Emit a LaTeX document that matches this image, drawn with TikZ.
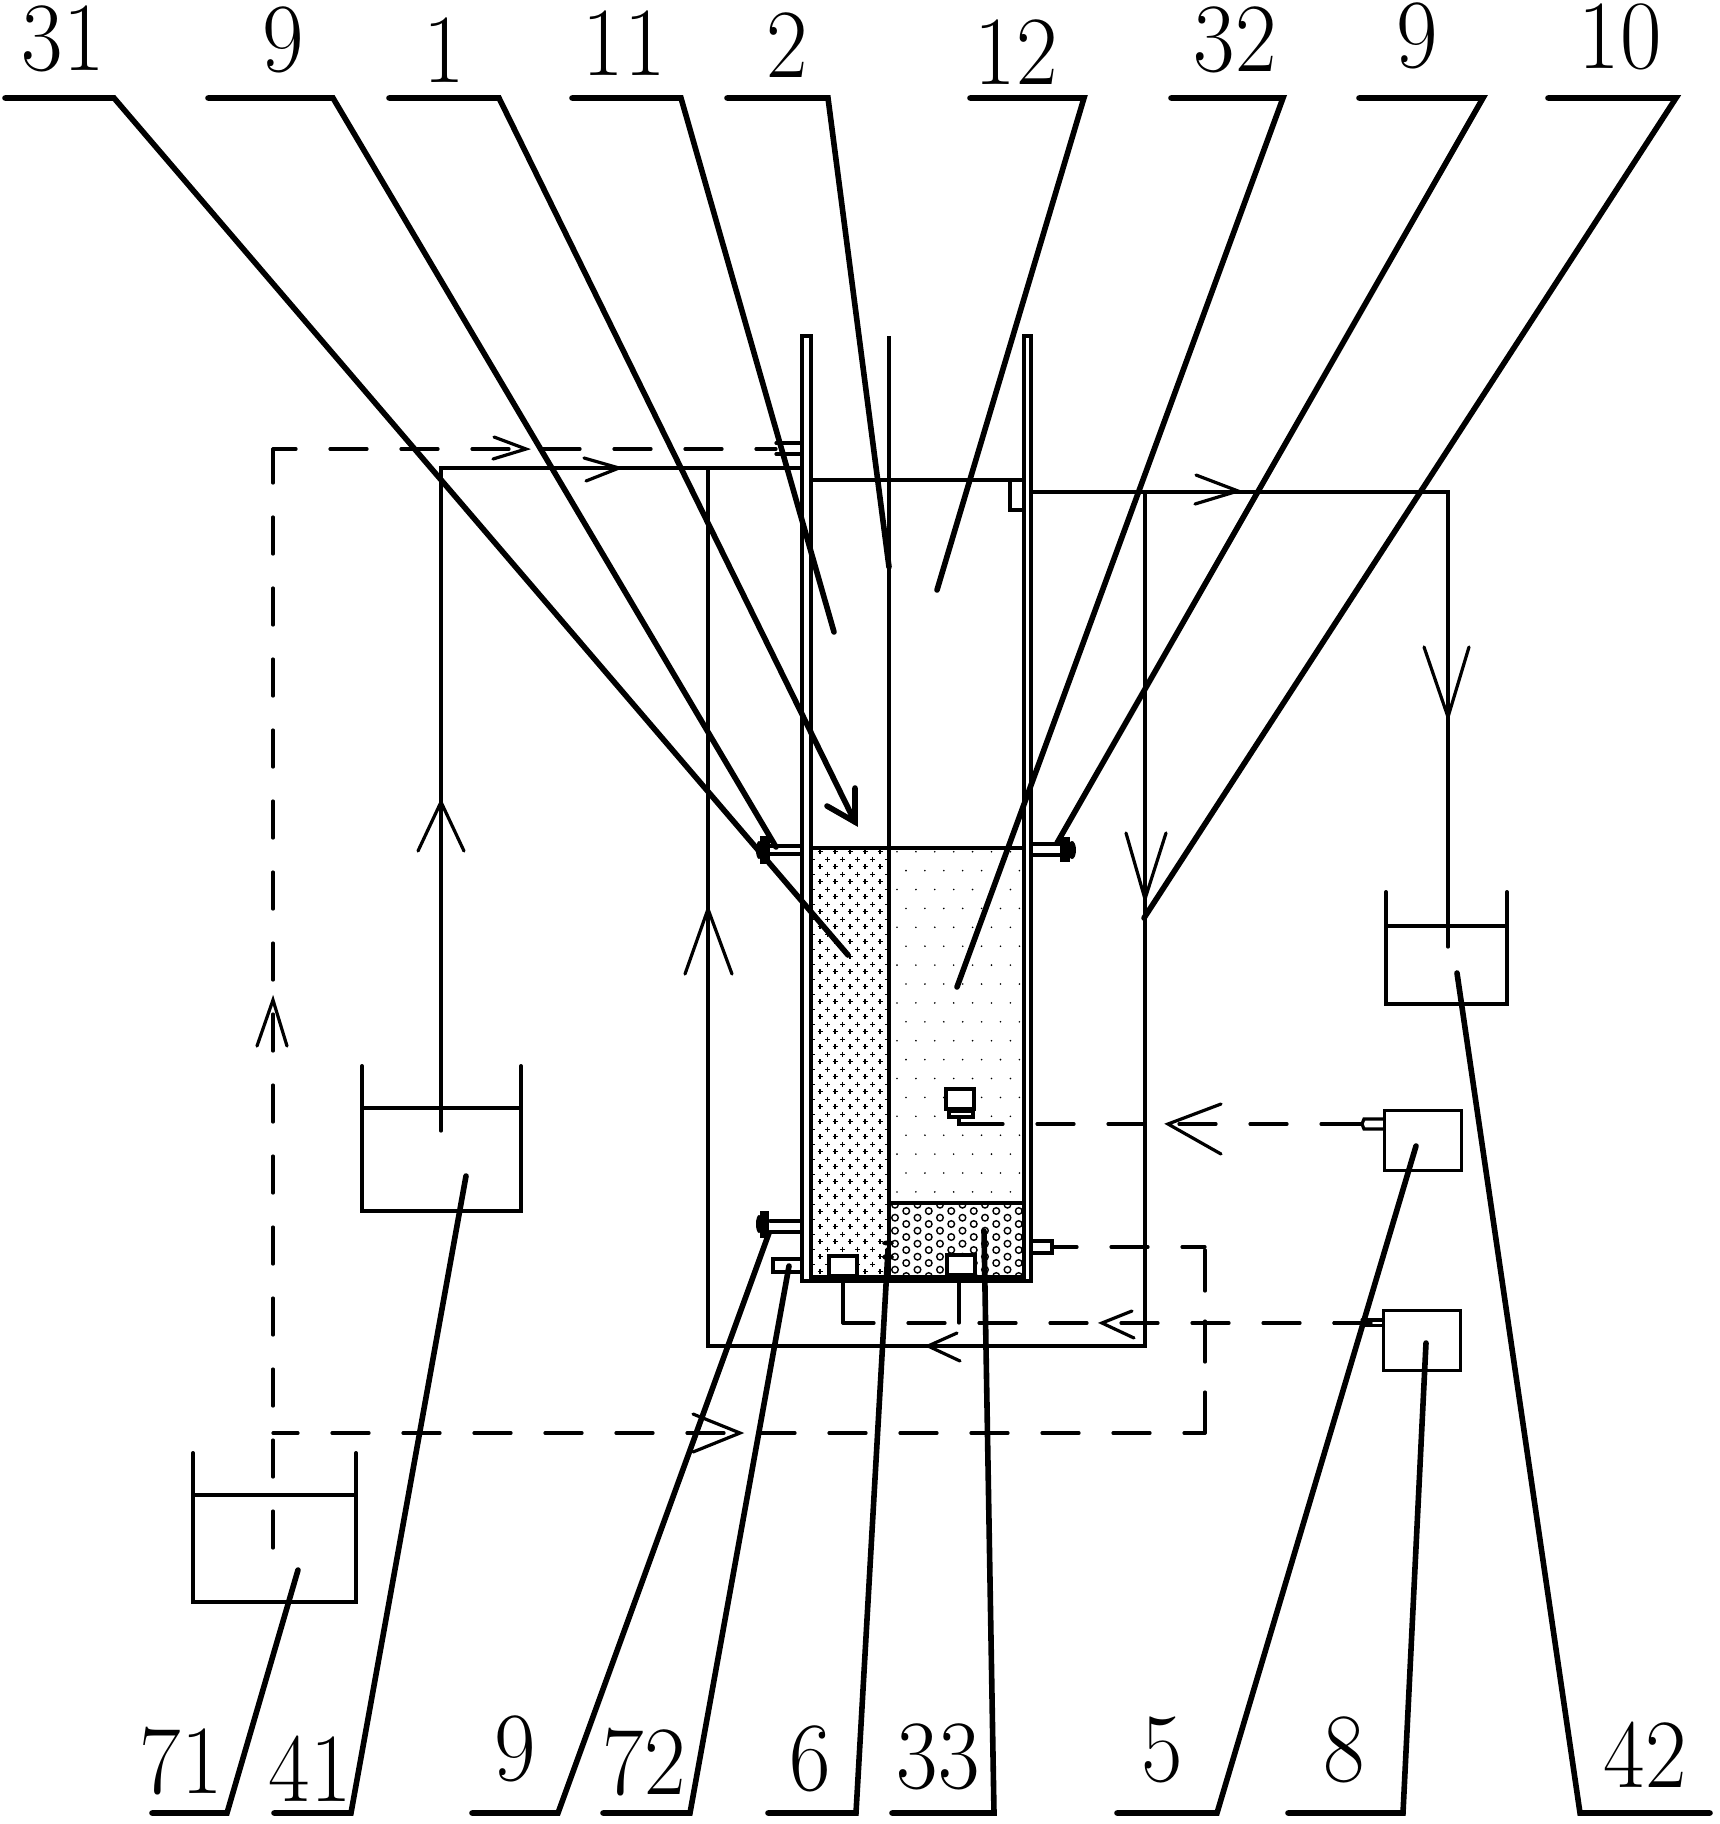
\documentclass[tikz,border=0pt]{standalone}
\usepackage{tikz}
\usetikzlibrary{shapes.geometric}
\tikzstyle{pipe}=[line width=3.2pt,line cap=round,line join=miter]
\tikzstyle{dashpipe}=[pipe,dash pattern=on 37pt off 34pt]
\tikzstyle{wall}=[line width=3.5pt,line join=miter]
\tikzstyle{vessel}=[line width=4pt,line cap=round,line join=miter]
\tikzstyle{leader}=[line width=5.6pt,line cap=round,line join=miter]
\tikzstyle{labelnum}=[font=\fontsize{98}{100}\selectfont,inner sep=0pt]
\tikzstyle{ctrlbox}=[draw,line width=3.5pt,rectangle,minimum width=77pt,minimum height=60pt,inner sep=0pt]
\tikzstyle{sensorbox}=[draw,fill=white,line width=3.5pt,rectangle,minimum width=28pt,minimum height=20pt,inner sep=0pt]
\tikzstyle{plusmark}=[line width=1.2pt]
\tikzstyle{bead}=[line width=1.4pt]

\begin{document}
\begin{tikzpicture}[x=1pt,y=-1pt]
    \useasboundingbox (0,0) rectangle (1720,1824);

    % packing
    \begin{scope}
        \clip (811,848) rectangle (889,1277);
        \foreach \i in {0,...,57}{
            \pgfmathsetmacro\py{851.7+7.5*\i}
            \pgfmathsetmacro\px{mod(\i,2)==0 ? 820 : 812.7}
            \foreach \j in {0,...,5}
                \draw[plusmark] (\px+15*\j-2.5,\py) -- ++(5,0) (\px+15*\j,\py-2.5) -- ++(0,5);
        }
    \end{scope}
    \foreach \i in {0,...,18}{
        \pgfmathsetmacro\py{851.7+18.9*\i}
        \pgfmathsetmacro\px{mod(\i,2)==0 ? 897 : 906}
        \foreach \j in {0,...,6}
            \fill (\px+18.9*\j,\py) circle (0.9);
    }
    \begin{scope}
        \clip (889,1203) rectangle (1024,1277);
        \foreach \i in {0,...,11}{
            \pgfmathsetmacro\px{895+11.25*\i}
            \pgfmathsetmacro\pz{mod(\i,2)==0 ? 1204.7 : 1198}
            \foreach \j in {0,...,6}
                \draw[bead] (\px,\pz+13*\j) circle (3.3);
        }
    \end{scope}

    % reactor
    \draw[wall] (811,1277) -- (811,336) -- (802,336) -- (802,1281) -- (1031,1281) -- (1031,336) -- (1024,336) -- (1024,1277) -- cycle;
    \draw[wall] (889,336) -- (889,1277);
    \draw[pipe] (811,848) -- (1024,848);
    \draw[pipe] (889,1203) -- (1024,1203);
    \draw[pipe] (811,480) -- (1024,480);
    \draw[pipe] (1010,480) -- (1010,510) -- (1024,510);

    % side ports
    \draw[pipe] (776,443) -- (802,443) (776,454) -- (802,454);
    \draw[pipe] (770,846) -- (802,846) (770,854) -- (802,854);
    \draw[pipe] (1031,844) -- (1062,844) (1031,855) -- (1062,855);
    \draw[pipe] (770,1221) -- (802,1221) (770,1232) -- (802,1232);
    \draw[pipe] (802,1259) -- (773,1259) -- (773,1272) -- (802,1272);
    \draw[pipe] (1031,1241) -- (1052,1241) -- (1052,1253) -- (1031,1253);
    \draw[pipe] (1383,1119) -- (1364,1119) -- (1362,1124) -- (1364,1129) -- (1383,1129);
    \draw[pipe] (1362,1320) -- (1382,1320) (1362,1325.5) -- (1382,1325.5);
    \foreach \x/\yt/\yb/\wd in {760/836/864/10, 760/1211/1238/9, 1060/837/862/10}
        \fill (\x,\yt) rectangle (\x+\wd,\yb);
    \fill (759,850) ellipse (3 and 9) (759,1224) ellipse (3 and 9) (1072,850) ellipse (4 and 9);

    % sensors
    \foreach \x/\y/\name in {843/1266/sensorleft, 961/1265/sensorright, 960/1099/sensorupper}
        \node[sensorbox] (\name) at (\x,\y) {};
    \foreach \xa/\xb/\ya/\yb in {835/852/1277/1281, 951/969/1277/1281, 949/973/1111/1117}
        \draw[pipe,fill=white] (\xa,\ya) rectangle (\xb,\yb);
    \fill (888,1243) ellipse (6 and 2.5);
    \fill (888,1257) ellipse (6 and 3);

    % control boxes
    \node[ctrlbox] (boxfive) at (1423,1140.5) {};
    \node[ctrlbox] (boxeight) at (1422,1340.5) {};

    % vessels
    \foreach \xl/\xr/\yt/\yw/\yb in {362/521/1066/1108/1211, 193/356/1453/1495/1602, 1386/1507/892/926/1004}{
        \draw[vessel] (\xl,\yt) -- (\xl,\yb) -- (\xr,\yb) -- (\xr,\yt);
        \draw[pipe] (\xl,\yw) -- (\xr,\yw);
    }

    \foreach \x/\y/\name in {441/1131/feedin, 441/468/feedtop, 802/468/feedend, 708/468/backtop, 708/1346/backleft, 1145/1346/backright, 1145/492/backup,
        1031/492/outa, 1448/492/outb, 1448/947/outc,
        273/1548/daa, 273/449/dab, 776/449/dac, 273/1433/dba, 1205/1433/dbb, 1205/1247/dbc, 1052/1247/dbd,
        1358/1124/dca, 1035/1124/dcb, 1362/1124/dcc, 959/1118/dcd, 959/1124/dce, 1003/1124/dcf,
        1371/1323/dda, 843/1323/ddb, 1362/1323/ddc, 843/1281/dde, 959/1281/ddf, 959/1323/ddg}
        \coordinate (\name) at (\x,\y);

    % lines
    \draw[pipe] (feedin) -- (feedtop) -- (feedend);
    \draw[pipe] (backtop) -- (backleft) -- (backright) -- (backup);
    \draw[pipe] (outa) -- (outb) -- (outc);
    \draw[dashpipe] (daa) -- (dab);
    \draw[dashpipe,dash phase=14pt] (dab) -- (dac);
    \draw[dashpipe,dash phase=12pt] (dba) -- (dbb);
    \draw[pipe,dash pattern=on 41pt off 30pt] (dbb) -- (dbc);
    \draw[dashpipe,dash phase=14pt] (dbc) -- (dbd);
    \draw[dashpipe] (dca) -- (dcb);
    \draw[pipe] (dcc) -- (1340,1124);
    \draw[pipe] (dcd) -- (dce) -- (dcf);
    \draw[dashpipe] (dda) -- (ddb);
    \draw[pipe] (ddc) -- (1334,1323);
    \draw[pipe] (dde) -- (ddb);
    \draw[pipe] (ddf) -- (ddg);

    % arrow heads
    \foreach \ax/\ay/\tx/\ty/\bx/\by in {494/437/526/449/493/459, 584/458/619/468/586/481, 1196/475/1238/491/1195/504,
        1424/647/1448/717/1469/647, 1126/833/1145/899/1166/833, 418/851/441/802/464/851, 685/974/708/909/732/974,
        257/1046/273/1000/287/1046, 957/1333/928/1346/960/1361, 1132/1311/1102/1323/1134/1338, 693/1414/740/1433/693/1452,
        1221/1104/1168/1124/1221/1154}
        \draw[pipe] (\ax,\ay) -- (\tx,\ty) -- (\bx,\by);

    % leaders
    \foreach \ax/\bx/\by/\ex/\ey/\name in {5/114/98/848/955/la, 208/333/98/776/847/lb, 389/499/98/855/822/lc, 572/681/98/834/632/ld,
        727/828/98/889/567/le, 970/1084/98/937/590/lf, 1171/1283/98/957/987/lg, 1359/1483/98/1057/843/lh, 1548/1676/98/1144/918/li,
        152/227/1813/298/1570/lj, 274/351/1813/466/1176/lk, 472/558/1813/769/1233/ll, 603/690/1813/789/1266/lm, 768/856/1813/888/1250/ln,
        892/994/1813/984/1231/lo, 1117/1217/1813/1416/1146/lp, 1288/1403/1813/1426/1343/lq, 1710/1580/1813/1457/973/lr}{
        \coordinate (a\name) at (\ax,\by);
        \coordinate (b\name) at (\bx,\by);
        \coordinate (e\name) at (\ex,\ey);
        \draw[leader] (a\name) -- (b\name) -- (e\name);
    }
    \draw[leader] (855,788) -- (elc) -- (827,806);

    % numbers
    \foreach \x/\y/\txt/\name in {63/39/31/na, 283/40/9/nb, 444/50/1/nc, 624/43/11/nd, 787/45/2/ne, 1016/52/12/nf, 1235/40/32/ng, 1417/36/9/nh, 1620/37/10/ni,
        181/1761/71/nj, 310/1769/41/nk, 515/1749/9/nl, 644/1762/72/nm, 810/1759/6/nn, 938/1757/33/no, 1162/1750/5/np, 1344/1750/8/nq, 1645/1755/42/nr}
        \node[labelnum] (\name) at (\x,\y) {\scalebox{.92}[1]{\txt}};
\end{tikzpicture}
\end{document}
